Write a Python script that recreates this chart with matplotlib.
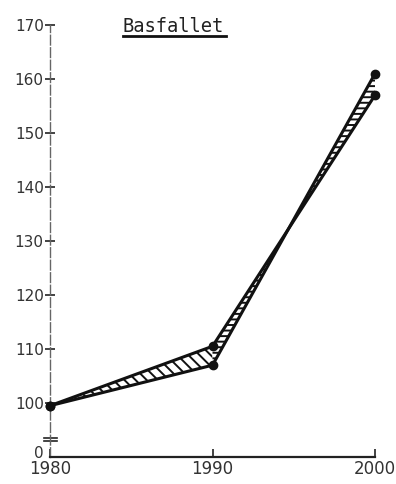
"""
Basfallet: two projections 1980-2000 with the gap between them hatched.
Saves out.png (396x484).
"""
import matplotlib
matplotlib.use("Agg")
import matplotlib.pyplot as plt

years = [1980, 1990, 2000]
# the two projections cross between 1990 and 2000
series_a = [99.5, 110.5, 157]
series_b = [99.5, 107, 161]

y_ticks = [100, 110, 120, 130, 140, 150, 160, 170]
y_zero = 90.9          # where the "0" label sits below the axis break
x_ticks = [1980, 1990, 2000]

plt.rcParams["hatch.linewidth"] = 1.4
plt.rcParams["font.family"] = "DejaVu Sans"

fig = plt.figure(figsize=(3.96, 4.84), dpi=100)
ax = fig.add_axes([0.1263, 0.0558, 0.8207, 0.9149])
ax.set_xlim(1980, 2000)
ax.set_ylim(90, 172)

# hatched band, different hatch on each leg
ax.fill_between(years[:2], series_a[:2], series_b[:2], facecolor="white",
                edgecolor="#111", hatch="\\\\\\", linewidth=0, interpolate=True)
ax.fill_between(years[1:], series_a[1:], series_b[1:], facecolor="white",
                edgecolor="#111", hatch="---", linewidth=0, interpolate=True)

for s in (series_a, series_b):
    ax.plot(years, s, color="#111", lw=2.2, clip_on=False, zorder=3)
    ax.plot(years, s, "o", color="#111", ms=6, clip_on=False, zorder=4)

# axes look
for side in ("top", "right"):
    ax.spines[side].set_visible(False)
ax.spines["left"].set_linestyle((0, (7, 2)))
ax.spines["left"].set_color("#666")
ax.spines["left"].set_linewidth(1)
ax.spines["left"].set_bounds(90, 170)
ax.spines["bottom"].set_linewidth(1.6)
ax.spines["bottom"].set_color("#222")

ax.set_yticks([y_zero] + y_ticks)
ax.set_yticklabels(["0"] + [str(v) for v in y_ticks], fontsize=11, color="#333")
ax.tick_params(axis="y", direction="inout", length=7, width=1.2, pad=1, color="#222")
ax.set_xticks(x_ticks)
ax.set_xticklabels([str(v) for v in x_ticks], fontsize=12, color="#333")
ax.tick_params(axis="x", direction="in", length=6, width=1.2, pad=2, color="#222")
ax.get_yticklines()[0].set_visible(False)
ax.get_yticklines()[1].set_visible(False)

# axis break marks
for yb in (92.9, 93.5):
    ax.plot([1979.6, 1980.4], [yb, yb], color="#222", lw=1.2, clip_on=False)

# underlined typewriter title
ax.text(1987.6, 169.8, "Basfallet", ha="center", va="center", fontsize=13.5,
        family="DejaVu Sans Mono", color="#222")
ax.plot([1984.5, 1990.8], [167.9, 167.9], color="#111", lw=2, clip_on=False)

fig.savefig("out.png", dpi=100)
